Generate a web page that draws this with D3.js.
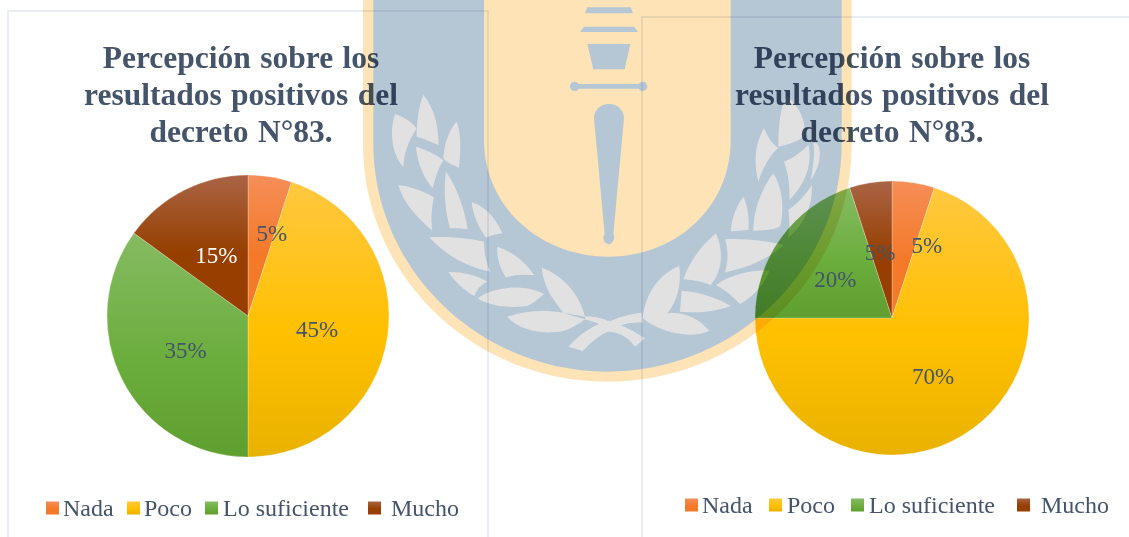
<!DOCTYPE html>
<html><head><meta charset="utf-8">
<script src="https://cdn.jsdelivr.net/npm/d3@7"></script>
<style>html,body{margin:0;padding:0;background:#fff;overflow:hidden}svg{display:block}text{font-family:"Liberation Serif",serif}</style>
</head><body><svg id="c" width="1129" height="537"></svg>
<script>
const categories = ["Nada","Poco","Lo suficiente","Mucho"];
const valuesLeft = [5,45,35,15];
const valuesRight = [5,70,20,5];
const titleLines = ["Percepción sobre los","resultados positivos del","decreto N°83."];
const baseColors = ["#f47a2a","#ffc000","#6cae3e","#963f00"];
const lightColors = ["#f58e58","#ffc840","#85bb62","#aa6445"];
const darkColors = ["#f47a2a","#e9b200","#5e9f2f","#963f00"];

const leaves = [
"M165,342C190,350 215,365 230,385C215,410 195,440 190,500C160,470 145,400 165,342Z",
"M250,285C280,320 295,370 296,435C270,425 250,415 230,410C230,370 235,320 250,285Z",
"M228,440C260,450 290,465 310,480C295,505 285,535 278,565C250,530 232,490 228,440Z",
"M350,365C365,400 362,460 357,503C340,495 325,492 310,475C312,430 330,385 350,365Z",
"M175,555C215,560 255,575 282,592C275,620 272,660 277,692C230,650 190,610 175,555Z",
"M318,515C350,560 375,630 383,688C365,685 345,684 330,685C315,630 310,570 318,515Z",
"M395,607C440,620 470,660 487,700C470,702 450,707 438,713C415,680 400,650 395,607Z",
"M268,712C320,708 390,715 432,725C432,760 440,790 450,815C380,800 315,765 268,712Z",
"M325,816C365,815 410,825 442,845C420,855 410,870 403,888C370,870 345,845 325,816Z",
"M472,740C520,755 560,790 583,826C550,822 520,825 498,833C480,805 470,775 472,740Z",
"M413,895C460,860 550,850 612,882C590,900 575,915 560,918C510,925 450,920 413,895Z",
"M605,803C670,825 720,885 735,950C710,945 690,942 670,938C640,900 610,860 605,803Z",
"M502,950C560,930 620,930 670,938C690,945 710,950 735,958C700,985 670,997 640,997C590,1000 530,985 502,950Z",
"M685,1040C720,1000 760,975 805,962C850,975 885,995 915,1015L885,1040C860,1005 830,995 805,995C785,1000 755,1025 728,1053Z",
"M735,950C760,948 790,955 808,965C830,952 870,942 905,938L908,968C870,965 840,975 810,990C790,975 760,965 735,958Z",
"M1018,798C1025,860 1010,905 982,940C1040,935 1080,960 1108,993C1060,1015 970,1005 908,955C915,880 960,820 1018,798Z",
"M1025,872C1080,875 1135,895 1172,918C1130,935 1070,940 1020,935Z",
"M1128,700C1150,750 1150,810 1112,855C1085,845 1060,840 1030,838C1050,780 1090,730 1128,700Z",
"M1155,718C1210,715 1280,722 1330,735C1290,775 1220,805 1155,817C1165,785 1165,750 1155,718Z",
"M1128,855C1170,825 1230,810 1288,812C1275,850 1240,890 1200,912C1180,890 1155,870 1128,855Z",
"M1210,590C1225,620 1228,660 1225,690L1172,694C1175,655 1190,615 1210,590Z",
"M1300,520C1325,560 1335,620 1320,680C1295,690 1265,692 1240,692C1240,630 1265,565 1300,520Z",
"M1415,555C1420,600 1400,670 1345,712C1350,680 1348,650 1345,630C1375,610 1400,580 1415,555Z",
"M1272,385C1285,415 1300,435 1315,443C1290,465 1270,500 1255,545C1240,490 1245,430 1272,385Z",
"M1340,290C1385,320 1400,380 1392,410C1370,425 1340,435 1315,440C1315,380 1320,320 1340,290Z",
"M1405,435C1415,470 1410,540 1348,600C1350,560 1345,520 1332,485C1360,475 1385,455 1405,435Z",
"M1420,430C1445,420 1450,490 1412,540C1420,500 1425,460 1420,430Z"];
const emblem = [
"M735,40L742,22H872L879,40Z",
"M720,96L732,80H882L894,96Z",
"M742,132H871L854,208H760Z",
"M703,245C710,245 714,248 716,252H896C898,248 903,245 909,245C917,245 922,252 922,259C922,266 917,273 909,273C903,273 898,270 896,266H716C714,270 710,273 703,273C695,273 690,266 690,259C690,252 695,245 703,245Z",
"M762,355C762,330 782,312 807,312C832,312 852,330 852,355L820,703C826,706 822,733 806,733C790,733 786,706 794,703Z"];

const svg = d3.select("#c");
const defs = svg.append("defs");
categories.forEach((c,i)=>{
  const g = defs.append("linearGradient").attr("id","g"+i).attr("x1",0).attr("y1",0).attr("x2",0).attr("y2",1);
  g.append("stop").attr("offset","0%").attr("stop-color",lightColors[i]);
  g.append("stop").attr("offset","55%").attr("stop-color",baseColors[i]);
  g.append("stop").attr("offset","100%").attr("stop-color",darkColors[i]);
});
const textCol = "#44546a", frameCol = "#e3e7ee";

function chart(cfg){
  const g = svg.append("g");
  g.append("path").attr("d",cfg.frame).attr("fill","none").attr("stroke",frameCol).attr("stroke-width",1.5);
  g.append("g").selectAll("text").data(titleLines).join("text")
    .attr("x",cfg.titleX).attr("y",(d,i)=>cfg.titleY+i*37).attr("text-anchor","middle")
    .attr("font-size",31.5).attr("word-spacing",1.5).attr("font-weight","bold").attr("fill",textCol).text(d=>d);
  const pie = d3.pie().sort(null).value(d=>d);
  const arc = d3.arc().innerRadius(0).outerRadius(cfg.r);
  const arcs = pie(cfg.values);
  const p = g.append("g").attr("transform",`translate(${cfg.cx},${cfg.cy})`);
  p.selectAll("path").data(arcs).join("path").attr("d",arc)
    .attr("fill",(d,i)=>`url(#g${i})`).attr("stroke","#fff").attr("stroke-opacity",.35).attr("stroke-width",.75);
  p.selectAll("text").data(arcs).join("text")
    .attr("transform",(d,i)=>{
      const a=(d.startAngle+d.endAngle)/2, rr=70;
      return `translate(${Math.sin(a)*rr+cfg.nudge[i][0]},${-Math.cos(a)*rr+cfg.nudge[i][1]})`;
    })
    .attr("text-anchor","middle").attr("dy","0.35em").attr("font-size",23).attr("fill",(d,i)=>cfg.labelFill[i])
    .text(d=>d.value+"%");
  const l = g.append("g");
  categories.forEach((c,i)=>{
    l.append("rect").attr("x",cfg.swatchX[i]).attr("y",cfg.legendY-14.5).attr("width",13).attr("height",13).attr("fill",`url(#g${i})`);
    l.append("text").attr("x",cfg.textX[i]).attr("y",cfg.legendY).attr("font-size",24).attr("fill",textCol).text(c);
  });
}
chart({values:valuesLeft,cx:248,cy:316,r:141,titleX:241,titleY:68,frame:"M8,537V11H488V537",labelFill:[textCol,textCol,textCol,"#fff"],
  nudge:[[13,-14],[0,2],[0,2],[0,1]],swatchX:[46,127,205,368],textX:[63,144,223,391],legendY:516});
chart({values:valuesRight,cx:892,cy:318,r:137,titleX:892,titleY:68,frame:"M642,537V17H1131",labelFill:[textCol,textCol,textCol,textCol],
  nudge:[[24,-4],[0,1],[0,2],[-1,3]],swatchX:[685,769,851,1017],textX:[702,787,869,1041],legendY:513});

// watermark, multiplied over the charts
const wm = svg.append("g").attr("transform","translate(340,0) scale(0.33333)").style("mix-blend-mode","multiply");
wm.append("path").attr("d","M69,-5V430C69,830 400,1145 802,1145C1204,1145 1535,830 1535,430V-5Z").attr("fill","#fde3b5");
wm.append("path").attr("d","M100,-5V430C100,810 420,1115 802,1115C1184,1115 1505,810 1505,430V-5Z").attr("fill","#b5c6d5");
wm.append("path").attr("d","M432,-5V420C432,620 600,770 805,770C1010,770 1172,620 1172,420V-5Z").attr("fill","#fde3b5");
wm.selectAll("path.e").data(emblem).join("path").attr("class","e").attr("d",d=>d).attr("fill","#b5c6d5");
wm.selectAll("path.l").data(leaves).join("path").attr("class","l").attr("d",d=>d).attr("fill","#e1e1e1");
</script></body></html>
